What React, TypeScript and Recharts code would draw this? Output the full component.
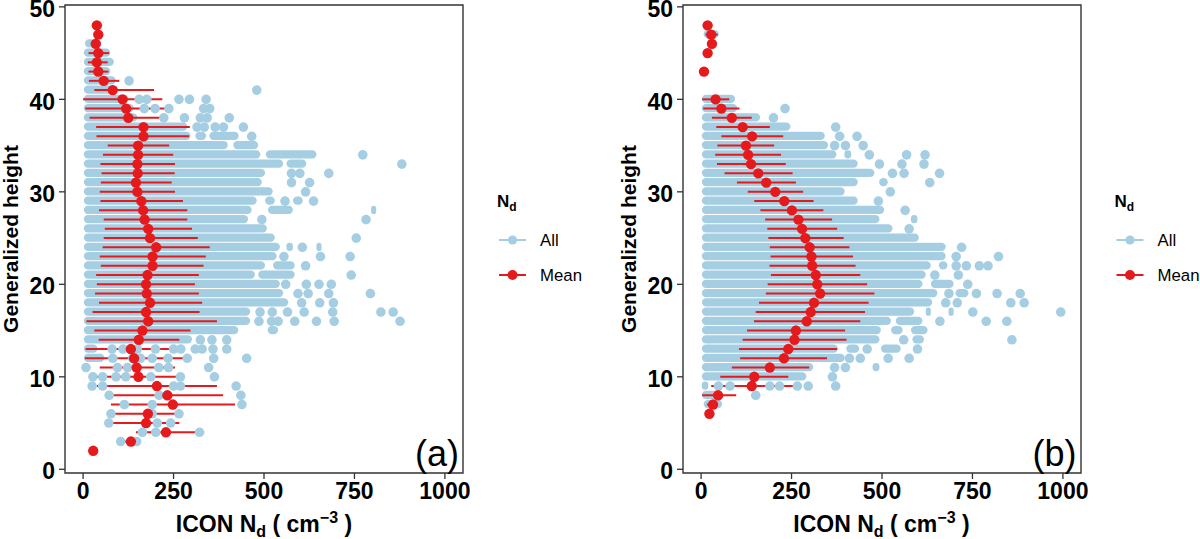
import { ComposedChart, Bar, Scatter, ErrorBar, XAxis, YAxis, ReferenceArea } from "recharts";

// [height, from, to] stretches where the "All" dots overlap into a solid run
type Seg = [number, number, number];
// [height, Nd] single "All" dots
type Pt = [number, number];
// [height, mean, low, high]
type MeanRow = [number, number, number?, number?];

const heightTicks = [0, 10, 20, 30, 40, 50];
const ndTicks = [0, 250, 500, 750, 1000];

const allSegA: Seg[] = [
  [46, 5, 50], [45, 2, 75], [44, 2, 85], [43, 2, 75], [42, 2, 90], [41, 2, 90],
  [40, 2, 125], [39, 2, 140], [38, 2, 150], [37, 2, 288],
  [36, 2, 297], [36, 310, 340], [36, 349, 430],
  [35, 2, 400], [35, 415, 484],
  [34, 2, 490], [34, 505, 645],
  [33, 2, 553], [33, 562, 617],
  [32, 2, 503], [31, 2, 494], [30, 2, 524],
  [29, 2, 480], [29, 503, 530], [29, 580, 607],
  [28, 2, 466], [28, 511, 580], [28, 796, 810],
  [27, 2, 456], [26, 2, 508], [25, 2, 530],
  [24, 2, 544], [24, 562, 580], [24, 645, 659],
  [23, 2, 535],
  [22, 2, 503], [22, 525, 585],
  [21, 2, 475], [21, 484, 585],
  [20, 2, 544], [19, 2, 553], [18, 2, 567], [17, 2, 462], [16, 2, 462],
  [15, 2, 429], [15, 510, 539],
  [14, 2, 301], [13, 2, 40], [12, 2, 59],
];

const allPtsA: Pt[] = [
  [42, 127], [41, 480],
  [40, 155], [40, 176], [40, 265], [40, 294], [40, 340],
  [39, 169], [39, 199], [39, 237], [39, 333], [39, 350],
  [38, 223], [38, 280], [38, 324], [38, 343], [38, 404],
  [37, 315], [37, 335], [37, 365], [37, 388], [37, 443],
  [36, 466], [34, 773], [33, 881],
  [32, 576], [32, 599], [32, 679],
  [31, 576], [31, 626], [30, 615], [29, 558], [29, 637],
  [27, 494], [27, 782], [25, 755], [24, 606],
  [23, 555], [23, 656], [23, 738], [22, 615], [21, 741],
  [20, 560], [20, 617], [20, 652], [20, 686],
  [19, 594], [19, 622], [19, 679], [19, 794],
  [18, 604], [18, 654], [18, 692],
  [17, 489], [17, 523], [17, 565], [17, 611], [17, 690], [17, 823], [17, 857],
  [16, 486], [16, 521], [16, 539], [16, 585], [16, 645], [16, 694], [16, 876],
  [14, 324], [14, 356], [14, 397],
  [13, 80], [13, 110], [13, 150], [13, 200], [13, 250], [13, 270], [13, 310], [13, 329], [13, 359], [13, 397],
  [12, 82], [12, 137], [12, 159], [12, 191], [12, 235], [12, 288], [12, 361], [12, 452],
  [11, 8], [11, 95], [11, 123], [11, 209], [11, 236], [11, 347],
  [10, 27], [10, 54], [10, 91], [10, 118], [10, 187], [10, 269], [10, 363],
  [9, 25], [9, 54], [9, 250], [9, 269], [9, 423],
  [8, 72], [8, 210], [8, 436],
  [7, 114], [7, 191], [7, 439],
  [6, 77], [6, 191], [6, 265],
  [5, 71], [5, 205], [5, 242],
  [4, 164], [4, 201], [4, 322],
  [3, 104], [3, 148],
];

const meanA: MeanRow[] = [
  [48, 38], [47, 42], [46, 35],
  [45, 42, 15, 72], [44, 38, 13, 68], [43, 42, 15, 70], [42, 57, 16, 100],
  [41, 82, 31, 196], [40, 109, 0, 219], [39, 119, 6, 231], [38, 125, 18, 234],
  [37, 167, 36, 295], [36, 167, 37, 293], [35, 152, 68, 238], [34, 152, 55, 249],
  [33, 150, 48, 254], [32, 151, 51, 253], [31, 146, 49, 245], [30, 150, 46, 254],
  [29, 161, 48, 276], [28, 166, 44, 288], [27, 170, 57, 288], [26, 180, 60, 301],
  [25, 185, 57, 317], [24, 202, 54, 350], [23, 192, 46, 339], [22, 192, 49, 333],
  [21, 178, 36, 320], [20, 174, 38, 309], [19, 176, 33, 320], [18, 185, 44, 329],
  [17, 174, 26, 322], [16, 180, 9, 370], [15, 164, 31, 297], [14, 154, 43, 266],
  [13, 132, 7, 256], [12, 141, 5, 288], [11, 148, 46, 254], [10, 153, 36, 272],
  [9, 204, 38, 370], [8, 233, 80, 387], [7, 248, 77, 420], [6, 179, 82, 276],
  [5, 174, 80, 266], [4, 229, 146, 313], [3, 132, 106, 157], [2, 28],
];

const allSegB: Seg[] = [
  [47, 7, 49], [40, 2, 94], [39, 2, 100], [38, 2, 163], [37, 2, 247],
  [36, 2, 342], [35, 2, 351],
  [34, 2, 374], [34, 396, 415],
  [33, 2, 433], [32, 2, 479],
  [31, 2, 433], [31, 492, 516],
  [30, 2, 397], [29, 2, 433], [28, 2, 506],
  [27, 2, 493], [27, 580, 598],
  [26, 2, 529], [25, 2, 602], [24, 2, 676], [23, 2, 676],
  [22, 2, 635], [22, 657, 681],
  [21, 2, 621],
  [20, 2, 612], [20, 635, 698],
  [19, 2, 653], [19, 703, 739],
  [18, 2, 639],
  [17, 2, 589], [17, 621, 635], [17, 684, 698],
  [16, 2, 525], [16, 538, 612],
  [15, 2, 497], [15, 525, 557], [15, 580, 626],
  [14, 2, 493], [14, 584, 616],
  [13, 2, 378], [13, 401, 437], [13, 497, 552],
  [12, 2, 397],
  [11, 2, 310], [11, 474, 493],
  [10, 2, 291], [9, 2, 20], [8, 2, 55], [7, 7, 58],
];

const allPtsB: Pt[] = [
  [39, 232], [38, 200], [37, 372],
  [36, 383], [36, 431],
  [35, 369], [35, 399], [35, 448],
  [34, 465], [34, 568], [34, 619],
  [33, 493], [33, 555], [33, 616],
  [32, 529], [32, 561], [32, 659],
  [31, 632], [30, 523], [29, 490], [28, 564], [26, 575], [24, 720],
  [23, 705], [23, 822],
  [22, 705], [22, 733], [22, 769], [22, 793],
  [21, 646], [21, 711], [20, 737],
  [19, 685], [19, 761], [19, 818], [19, 882],
  [18, 676], [18, 708], [18, 856], [18, 893],
  [17, 751], [17, 994],
  [16, 660], [16, 788], [16, 845],
  [14, 560], [14, 859],
  [13, 459], [13, 598],
  [12, 410], [12, 440], [12, 517], [12, 575],
  [11, 369], [11, 399], [10, 363],
  [9, 48], [9, 80], [9, 140], [9, 190], [9, 217], [9, 266], [9, 296], [9, 372],
  [8, 151],
];

const meanB: MeanRow[] = [
  [48, 18], [47, 28, 12, 46], [46, 30], [45, 18], [43, 8],
  [40, 40, 3, 78], [39, 56, 6, 106], [38, 85, 30, 140], [37, 115, 42, 190],
  [36, 141, 56, 227], [35, 124, 45, 202], [34, 130, 39, 221], [33, 138, 44, 234],
  [32, 158, 65, 253], [31, 180, 99, 262], [30, 205, 129, 282], [29, 230, 147, 311],
  [28, 251, 164, 338], [27, 269, 177, 362], [26, 279, 183, 376], [25, 288, 186, 394],
  [24, 300, 190, 410], [23, 305, 192, 420], [22, 307, 189, 427], [21, 317, 193, 440],
  [20, 321, 184, 459], [19, 329, 179, 479], [18, 312, 160, 463], [17, 303, 151, 453],
  [16, 292, 146, 440], [15, 262, 127, 398], [14, 258, 115, 402], [13, 241, 105, 376],
  [12, 229, 108, 348], [11, 190, 85, 299], [10, 147, 53, 241], [9, 140, 28, 255],
  [8, 47, 3, 97], [7, 33, 16, 46], [6, 23],
];

const BLUE = "#A6CEE3";
const RED = "#E41A1C";
const FONT = "'Liberation Sans', Arial, Helvetica, sans-serif";

const tickStyle = { fill: "#000", fontSize: 23, fontWeight: "bold", fontFamily: FONT };

const Panel = ({ segs, pts, means }: { segs: Seg[]; pts: Pt[]; means: MeanRow[] }) => {
  const segData = segs.map(([h, lo, hi]) => ({ h, x: [lo, hi] }));
  const ptData = pts.map(([h, x]) => ({ h, x }));
  const meanData = means.map(([h, m, lo, hi]) => ({
    h,
    x: m,
    err: [lo === undefined ? 0 : m - lo, hi === undefined ? 0 : hi - m],
  }));

  return (
    <ComposedChart
      layout="vertical"
      width={600}
      height={539}
      data={segData}
      margin={{ top: 5, right: 137, bottom: 0, left: 0 }}
    >
      <XAxis
        type="number"
        dataKey="x"
        domain={[-50, 1050]}
        ticks={ndTicks}
        allowDataOverflow
        height={66}
        axisLine={false}
        tickLine={{ stroke: "#333", strokeWidth: 1.3 }}
        tickSize={6}
        tickMargin={4}
        tick={tickStyle}
        interval={0}
      />
      <YAxis
        type="number"
        dataKey="h"
        domain={[-0.4, 50.2]}
        ticks={heightTicks}
        allowDataOverflow
        reversed
        width={65}
        axisLine={false}
        tickLine={{ stroke: "#333", strokeWidth: 1.3 }}
        tickSize={6}
        tickMargin={4}
        tick={{ ...tickStyle, dy: 2 }}
        interval={0}
      />
      <Bar dataKey="x" fill={BLUE} barSize={9.4} radius={4.7} isAnimationActive={false} />
      <Scatter
        data={ptData}
        fill={BLUE}
        isAnimationActive={false}
        shape={(p: any) => <circle cx={p.cx} cy={p.cy} r={4.8} fill={BLUE} />}
      />
      <Scatter
        data={meanData}
        fill={RED}
        isAnimationActive={false}
        shape={(p: any) => <circle cx={p.cx} cy={p.cy} r={5.2} fill={RED} />}
      >
        <ErrorBar dataKey="err" direction="x" width={0} stroke={RED} strokeWidth={2} />
      </Scatter>
      <ReferenceArea
        x1={-50}
        x2={1050}
        y1={-0.4}
        y2={50.2}
        fill="none"
        stroke="#333"
        strokeWidth={1.4}
        ifOverflow="visible"
      />
    </ComposedChart>
  );
};

const Labels = ({ ox, tag }: { ox: number; tag: string }) => (
  <g fontFamily={FONT}>
    <text
      x={ox + 18}
      y={239}
      transform={`rotate(-90 ${ox + 18} 239)`}
      textAnchor="middle"
      fontSize={21}
      fontWeight="bold"
    >
      Generalized height
    </text>
    <text x={ox + 264} y={532} textAnchor="middle" fontSize={23} fontWeight="bold">
      ICON N<tspan fontSize={16} dy={5}>d</tspan>
      <tspan dy={-5}> ( cm</tspan>
      <tspan fontSize={16} dy={-9}>−3</tspan>
      <tspan dy={9}> )</tspan>
    </text>
    <text x={ox + 459} y={466} textAnchor="end" fontSize={36}>
      {tag}
    </text>
    <text x={ox + 497} y={207} fontSize={17} fontWeight="bold">
      N<tspan fontSize={12} dy={4}>d</tspan>
    </text>
    <line x1={ox + 499} x2={ox + 526} y1={240} y2={240} stroke={BLUE} strokeWidth={2} />
    <circle cx={ox + 512.5} cy={240} r={4.6} fill={BLUE} />
    <text x={ox + 540} y={246} fontSize={16.8}>
      All
    </text>
    <line x1={ox + 499} x2={ox + 526} y1={275} y2={275} stroke={RED} strokeWidth={2} />
    <circle cx={ox + 512.5} cy={275} r={5} fill={RED} />
    <text x={ox + 540} y={281} fontSize={16.8}>
      Mean
    </text>
  </g>
);

export default function App() {
  return (
    <div style={{ position: "absolute", left: 0, top: 0, width: 1200, height: 539, background: "#fff" }}>
      <div style={{ position: "absolute", left: 0, top: 0 }}>
        <Panel segs={allSegA} pts={allPtsA} means={meanA} />
      </div>
      <div style={{ position: "absolute", left: 617.5, top: 0 }}>
        <Panel segs={allSegB} pts={allPtsB} means={meanB} />
      </div>
      <svg
        width={1200}
        height={539}
        style={{ position: "absolute", left: 0, top: 0, pointerEvents: "none" }}
      >
        <Labels ox={0} tag="(a)" />
        <Labels ox={617.5} tag="(b)" />
      </svg>
    </div>
  );
}
